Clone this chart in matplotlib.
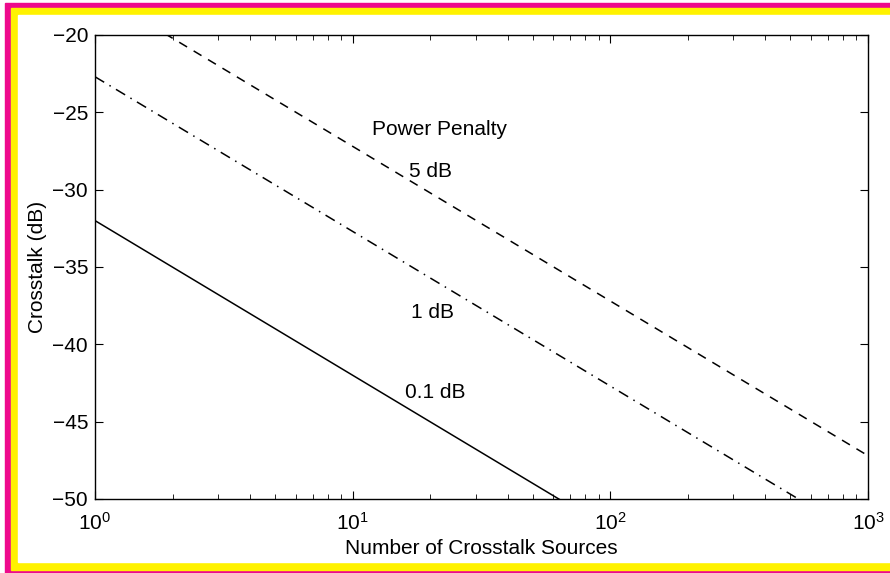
import matplotlib
matplotlib.use("Agg")
import matplotlib.pyplot as plt
from matplotlib.patches import Rectangle

plt.rcParams['font.family'] = ['Liberation Sans', 'DejaVu Sans']
plt.rcParams['mathtext.fontset'] = 'custom'
plt.rcParams['mathtext.rm'] = 'Liberation Sans'
plt.rcParams['mathtext.it'] = 'Liberation Sans'

# Number of crosstalk sources and crosstalk level (dB) for each power penalty
sources = [1, 10, 100, 1000]
xt_01db = [-32.0, -42.0, -52.0, -62.0]
xt_1db = [-22.7, -32.7, -42.7, -52.7]
xt_5db = [-17.2, -27.2, -37.2, -47.2]

FS = 15
W, H = 890, 573
fig = plt.figure(figsize=(W / 100, H / 100), dpi=100)

# coloured frame around the figure
fig.patches.append(Rectangle((5 / W, -0.1), 1.1, 1.1 - 3 / H,
                             transform=fig.transFigure, color='#ee0a8c', zorder=-3))
fig.patches.append(Rectangle((11 / W, 3 / H), 1.1, 1 - 8 / H - 3 / H,
                             transform=fig.transFigure, color='#fff200', zorder=-2))
fig.patches.append(Rectangle((18 / W, 11 / H), 1.1, 1 - 15 / H - 11 / H,
                             transform=fig.transFigure, color='white', zorder=-1))

ax = fig.add_axes([95 / W, 1 - 499 / H, (868 - 95) / W, (499 - 35) / H])
ax.set_facecolor('white')

ax.plot(sources, xt_01db, color='black', lw=1.1, linestyle='-')
ax.plot(sources, xt_1db, color='black', lw=1.1, linestyle=(0, (7, 4, 1, 4)))
ax.plot(sources, xt_5db, color='black', lw=1.1, linestyle=(0, (6, 5)))

ax.set_xscale('log')
ax.set_xlim(1, 1000)
ax.set_ylim(-50, -20)
ax.set_yticks([-50, -45, -40, -35, -30, -25, -20])

ax.tick_params(which='both', direction='in', top=True, right=True,
               labelsize=FS, colors='black')
ax.tick_params(which='major', length=6, width=0.8)
ax.tick_params(axis='x', which='major', pad=9)
ax.tick_params(axis='y', which='major', pad=5)
ax.tick_params(which='minor', length=3.5, width=0.6)
for s in ax.spines.values():
    s.set_linewidth(1.0)

ax.set_xlabel('Number of Crosstalk Sources', fontsize=FS, labelpad=4)
ax.set_ylabel('Crosstalk (dB)', fontsize=FS, labelpad=4)

ax.text(11.9, -26.1, 'Power Penalty', fontsize=FS, va='center', ha='left')
ax.text(16.6, -28.85, '5 dB', fontsize=FS, va='center', ha='left')
ax.text(16.8, -37.95, '1 dB', fontsize=FS, va='center', ha='left')
ax.text(16.0, -43.1, '0.1 dB', fontsize=FS, va='center', ha='left')

fig.savefig('out.png', dpi=100, facecolor='white')
